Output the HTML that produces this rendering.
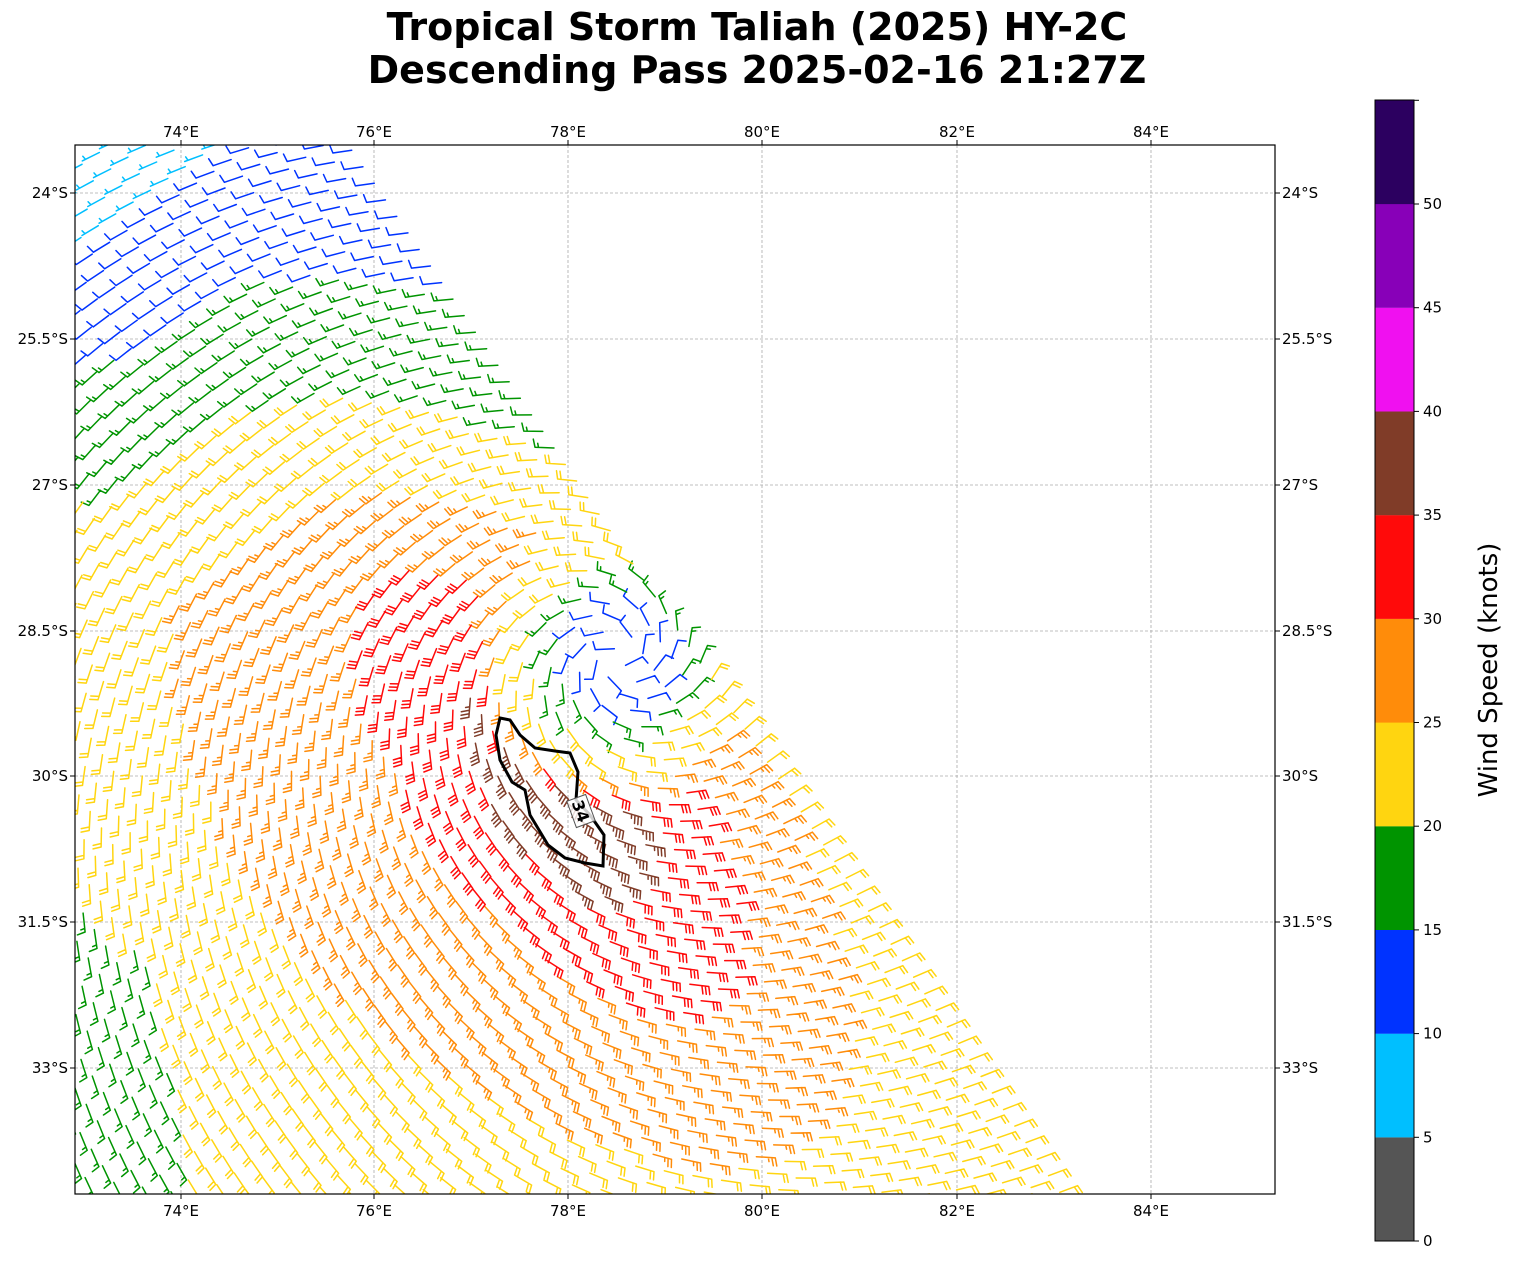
<!DOCTYPE html><html><head><meta charset="utf-8"><style>
body{margin:0;background:#fff;width:1513px;height:1264px;overflow:hidden;font-family:"DejaVu Sans",sans-serif}
</style></head><body>
<svg id="s" width="1513" height="1264" xmlns="http://www.w3.org/2000/svg" font-family="DejaVu Sans, sans-serif">
<text x="757" y="40" font-size="38" font-weight="bold" text-anchor="middle">Tropical Storm Taliah (2025) HY-2C</text>
<text x="757" y="83" font-size="38" font-weight="bold" text-anchor="middle">Descending Pass 2025-02-16 21:27Z</text>
<defs><clipPath id="c"><rect x="75" y="145" width="1200" height="1049"/></clipPath></defs>
<g id="grid" stroke="#aaa" stroke-width="0.8" stroke-dasharray="3,2"></g>
<g id="barbs" clip-path="url(#c)" fill="none" stroke-width="1.5" stroke-linecap="round"></g>
<path d="M500,718 L510,720 520,735 535,748 555,751 570,753 578,772 576,800 590,815 604,835 603,866 585,863 565,858 548,845 530,815 525,790 512,782 500,760 496,735 Z" fill="none" stroke="#000" stroke-width="3"/>
<g transform="translate(581,811) rotate(70)"><rect x="-14" y="-10" width="28" height="20" fill="#fff" fill-opacity="0.8" stroke="#555"/><text x="0" y="6" font-size="16" font-weight="bold" text-anchor="middle">34</text></g>
<rect x="75" y="145" width="1200" height="1049" fill="none" stroke="#000" stroke-width="1.2"/>
<g id="ticks" font-size="15"></g>
<g id="cb"></g>
<text transform="translate(1497,670) rotate(-90)" font-size="26" text-anchor="middle">Wind Speed (knots)</text>
</svg>
<script>
var NS="http://www.w3.org/2000/svg";
function el(p,t,a,txt){var e=document.createElementNS(NS,t);for(var k in a)e.setAttribute(k,a[k]);if(txt!=null)e.textContent=txt;p.appendChild(e);return e;}
var g=document.getElementById('grid'),tk=document.getElementById('ticks');
var lons=[[181,'74°E'],[374,'76°E'],[568,'78°E'],[762,'80°E'],[957,'82°E'],[1151,'84°E']];
var lats=[[193,'24°S'],[339,'25.5°S'],[485,'27°S'],[631,'28.5°S'],[776,'30°S'],[922,'31.5°S'],[1068,'33°S']];
lons.forEach(function(l){el(g,'line',{x1:l[0],x2:l[0],y1:145,y2:1194});
el(tk,'line',{x1:l[0],x2:l[0],y1:145,y2:140,stroke:'#000'});el(tk,'line',{x1:l[0],x2:l[0],y1:1194,y2:1199,stroke:'#000'});
el(tk,'text',{x:l[0],y:137,'text-anchor':'middle'},l[1]);el(tk,'text',{x:l[0],y:1216,'text-anchor':'middle'},l[1]);});
lats.forEach(function(l){el(g,'line',{y1:l[0],y2:l[0],x1:75,x2:1275});
el(tk,'line',{y1:l[0],y2:l[0],x1:75,x2:70,stroke:'#000'});el(tk,'line',{y1:l[0],y2:l[0],x1:1275,x2:1280,stroke:'#000'});
el(tk,'text',{x:68,y:l[0]+5,'text-anchor':'end'},l[1]);el(tk,'text',{x:1282,y:l[0]+5},l[1]);});
var cols=['#555555','#00bfff','#0033ff','#009400','#ffd510','#ff8c0a','#ff0a0a','#803c28','#f010f0','#8800b8','#2c0060'];
var cb=document.getElementById('cb');
for(var i=0;i<11;i++){var y0=1241-(i+1)*103.7;el(cb,'rect',{x:1375,y:y0,width:39,height:103.8,fill:cols[i]});}
el(cb,'rect',{x:1375,y:100,width:39,height:1141,fill:'none',stroke:'#000'});
for(var i=0;i<=11;i++){var y=1241-i*103.7;el(cb,'line',{x1:1414,x2:1419,y1:y,y2:y,stroke:'#000'});if(i<=10)el(cb,'text',{x:1423,y:y+5,'font-size':'15'},String(i*5));}
var paths={};
var cx=618,cy=658;
var ax=0.562,ay=0.827,nx=-0.827,ny=0.562;
function gauss(x,y,x0,y0,sa,sn){var dx=x-x0,dy=y-y0;var a=dx*ax+dy*ay,n=dx*nx+dy*ny;return Math.exp(-(a*a)/(2*sa*sa)-(n*n)/(2*sn*sn));}
function speed(x,y){var dx=x-cx,dy=y-cy,r=Math.sqrt(dx*dx+dy*dy);
var s=21.5+10.5*gauss(x,y,580,790,230,90)+2*gauss(x,y,550,800,70,40)+6*gauss(x,y,430,790,330,190);
if(y<600){s-=(600-y)/40; if(x<250)s-=(250-x)/50*(600-y)/300;}
if(x<250&&y>850)s-=Math.min(5,(250-x)/35)*Math.min(1,(y-850)/120);
if(r<150){var inner=r<45?12:(r<75?12+(r-45)/30*7:(r<110?19+(r-75)/35*4:23+(r-110)/40*(s-23)));s=inner;}
return Math.max(6,Math.min(39,s));}
for(var si=-40;si<90;si++)for(var ti=0;ti<70;ti++){
var s=si*20,t=ti*21+4;var x=355+s*ax+t*nx,y=148+s*ay+t*ny;
if(x<60||x>1290||y<135||y>1210)continue;
var dx=x-cx,dy=y-cy,r=Math.sqrt(dx*dx+dy*dy)||1;
var vx=-dy/r-0.35*dx/r,vy=dx/r-0.35*dy/r;var vm=Math.sqrt(vx*vx+vy*vy);vx/=vm;vy/=vm;
var sp=speed(x,y);var c=cols[Math.floor(sp/5)];
var ux=-vx,uy=-vy,L=19;var ex=x+ux*L,ey=y+uy*L;
var px=-uy,py=ux;
var d='M'+x.toFixed(1)+','+y.toFixed(1)+'L'+ex.toFixed(1)+','+ey.toFixed(1);
var n=Math.floor(sp/10),h=(sp%10)>=5,pos=0;
for(var k=0;k<n;k++){var bx=ex-ux*pos,by=ey-uy*pos;d+='M'+bx.toFixed(1)+','+by.toFixed(1)+'l'+(px*8+ux*2).toFixed(1)+','+(py*8+uy*2).toFixed(1);pos+=3.5;}
if(h){if(n==0)pos=3.5;var bx=ex-ux*pos,by=ey-uy*pos;d+='M'+bx.toFixed(1)+','+by.toFixed(1)+'l'+(px*4+ux*1).toFixed(1)+','+(py*4+uy*1).toFixed(1);}
paths[c]=(paths[c]||'')+d;}
var bg=document.getElementById('barbs');
for(var c in paths)el(bg,'path',{d:paths[c],stroke:c});
</script>
</body></html>
